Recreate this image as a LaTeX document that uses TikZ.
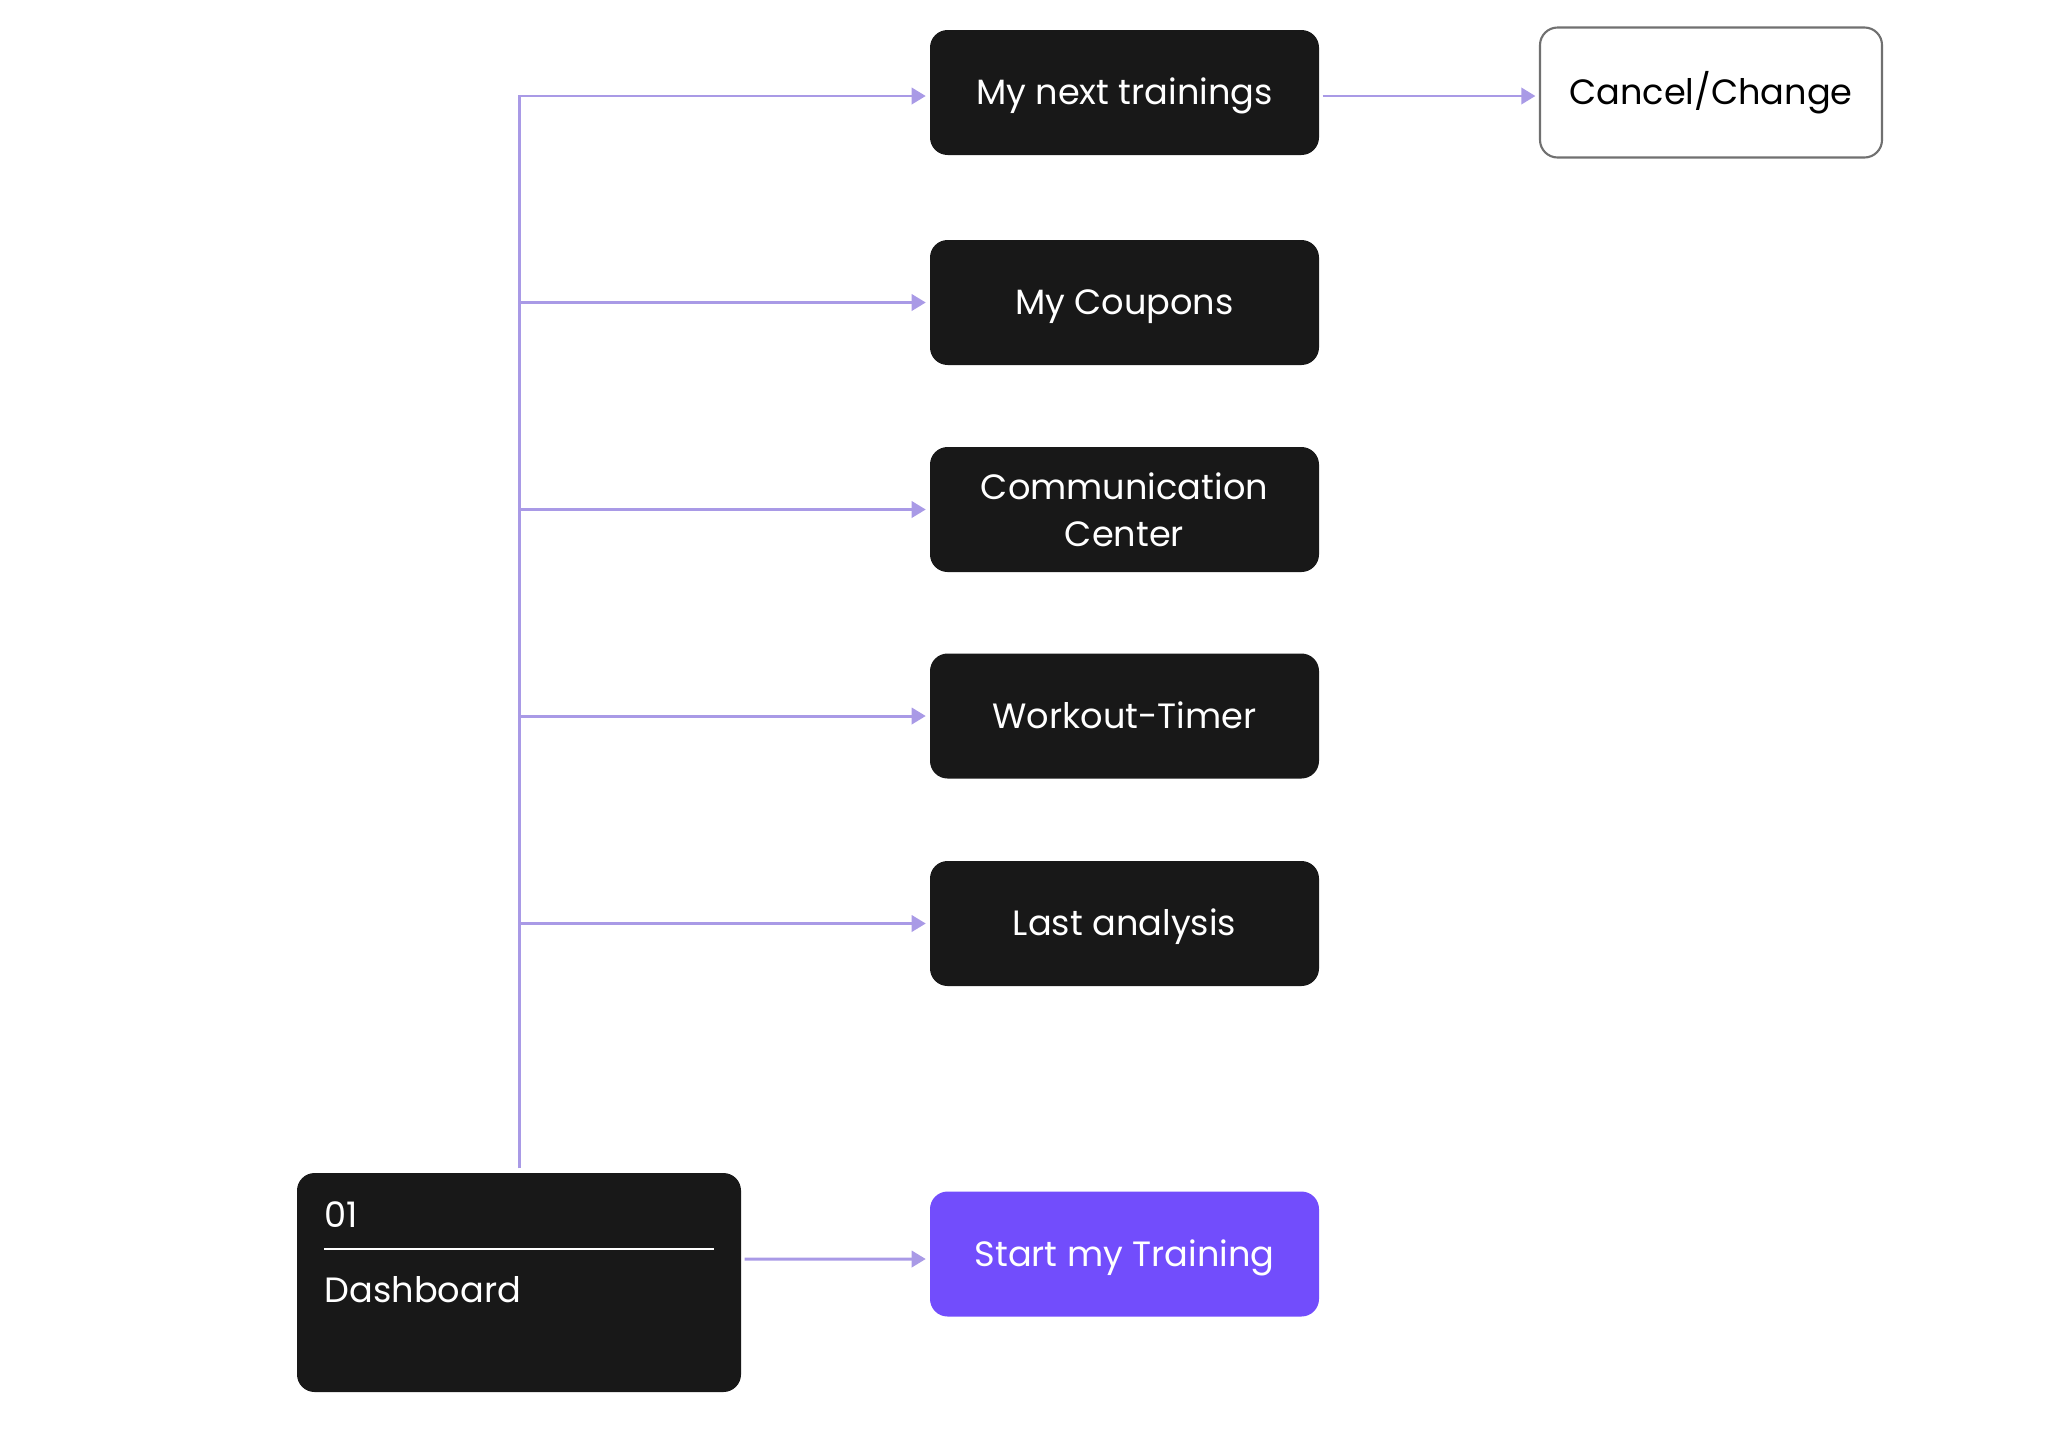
\documentclass[tikz,border=0pt]{standalone}
\usepackage{fontspec}
\setmainfont{Poppins}
\usetikzlibrary{arrows.meta}

\definecolor{boxdark}{HTML}{181818}
\definecolor{boxviolet}{HTML}{724DFC}
\definecolor{linklav}{HTML}{A99AE6}
\definecolor{edgegray}{HTML}{707070}

\tikzset{
  darkbox/.style={fill=boxdark, rounded corners=5pt, minimum width=3.89cm,
    minimum height=1.25cm, text=white, align=center, inner sep=0pt},
  oneline/.style={text height=0.7em, text depth=0pt},
  startbox/.style={darkbox, fill=boxviolet},
  outlinebox/.style={draw=edgegray, line width=0.6pt, rounded corners=5pt,
    minimum width=3.42cm, minimum height=1.3cm, text=black, inner sep=0pt},
  link/.style={draw=linklav, line width=0.85pt},
  linkarrow/.style={link, -{Triangle[length=4pt, width=4.6pt]}, shorten >=1pt}
}

\begin{document}
\begin{tikzpicture}[font=\fontsize{10}{13.4}\selectfont]
  \useasboundingbox (0,0) rectangle (20.58,-14.4);
  % right column
  \node[darkbox, oneline] (next) at (11.245,-0.925) {My next trainings};
  \node[darkbox, oneline] (cpn)  at (11.245,-3.025) {My Coupons};
  \node[darkbox] (comm) at (11.245,-5.095) {Communication\\Center};
  \node[darkbox, oneline] (timer) at (11.245,-7.16) {Workout-Timer};
  \node[darkbox, oneline] (anl) at (11.245,-9.235) {Last analysis};
  \node[startbox, oneline] (start) at (11.245,-12.54) {Start my Training};
  \node[outlinebox, oneline] (cancel) at (17.11,-0.925) {Cancel/Change};
  % dashboard card
  \node[fill=boxdark, rounded corners=5pt, minimum width=4.44cm,
        minimum height=2.19cm] (dash) at (5.19,-12.825) {};
  \node[text=white, anchor=base west, inner sep=0pt] (dnum) at (3.24,-12.27) {01};
  \node[text=white, anchor=base west, inner sep=0pt] (dname) at (3.24,-13.02) {Dashboard};
  \draw[white, line width=0.6pt] (3.24,-12.49) -- (7.14,-12.49);
  % connectors
  \draw[linkarrow] ([yshift=0.4mm]dash.north) |- ([yshift=-0.35mm]next.west);
  \foreach \t in {cpn,comm,timer,anl}{
    \draw[linkarrow] (dash.north |- \t.west) -- (\t.west);
  }
  \draw[linkarrow] ([xshift=0.3mm, yshift=-0.35mm]next.east) -- ([yshift=-0.35mm]cancel.west);
  \draw[linkarrow] ([xshift=0.3mm, yshift=0.235cm]dash.east) -- ([yshift=-0.05cm]start.west);
\end{tikzpicture}
\end{document}
